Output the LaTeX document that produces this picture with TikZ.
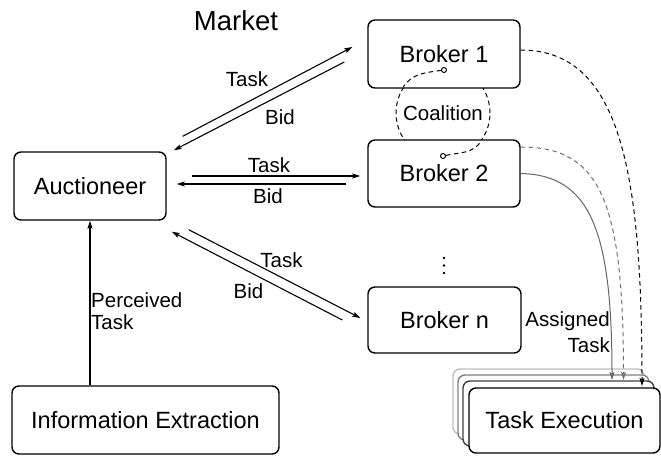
\documentclass[tikz,border=0pt]{standalone}
\usepackage{fontspec}
\setmainfont{Liberation Sans}
\usetikzlibrary{arrows.meta,calc}
\begin{document}
\begin{tikzpicture}[x=1pt,y=-1pt,
  box/.style={draw,line width=1.4pt,rounded corners=7pt,fill=white,inner sep=0pt,
    font=\fontsize{23.5}{28}\selectfont},
  lbl/.style={inner sep=0pt,font=\fontsize{20.5}{23}\selectfont},
  arr/.style={line width=1.1pt,-{Stealth[length=8pt,width=5pt,inset=1.5pt]}},
  dsh/.style={dash pattern=on 4.5pt off 3.5pt},
  dot/.style={draw,line width=1pt,fill=white,circle,inner sep=0pt,minimum size=5pt},
  coal/.style={draw,dsh,line width=1pt,circle,minimum size=94pt,inner sep=0pt,
    font=\fontsize{20.5}{23}\selectfont}]
\useasboundingbox (0,0) rectangle (661,455);

% title
\node[inner sep=0pt,font=\fontsize{27.5}{30}\selectfont] (market) at (236,21) {Market};

% coalition circle (drawn under the broker boxes)
\node[coal] (coal) at (443,113) {Coalition};

% brokers
\node[box,minimum width=152pt,minimum height=68pt] (b1) at (444,54) {Broker 1};
\node[box,minimum width=152pt,minimum height=67pt] (b2) at (444,173.5) {Broker 2};
\node[box,minimum width=153pt,minimum height=66pt] (bn) at (444.5,320) {Broker n};
\node[box,minimum width=152pt,minimum height=68pt] (auc) at (90,186) {Auctioneer};
\node[box,minimum width=267pt,minimum height=68pt] (info) at (145.5,420) {Information Extraction};

% task execution stack
\node[box,draw=black!25,minimum width=191pt,minimum height=65pt] (te0) at (548.5,401.5) {};
\node[box,draw=black!50,minimum width=191pt,minimum height=65pt] (te1) at (553.5,407.5) {};
\node[box,draw=black!75,minimum width=191pt,minimum height=65pt] (te2) at (558.5,413.5) {};
\node[box,minimum width=191pt,minimum height=65pt] (te) at (564.5,420.5) {Task Execution};

% coalition links
\node[dot] (d1) at (444,70) {};
\node[dot] (d2) at (443,156) {};
\draw[dsh,line width=1pt] (d1) to[out=188,in=57] (coal.147);
\draw[dsh,line width=1pt] (d2) to[out=12,in=235] (coal.323);

% vertical dots
\foreach \yy in {258,265.5,273} \fill (444,\yy) circle (1.3pt);

% auction arrows
\draw[arr] ([shift={(16,-15)}]auc.north east) -- ([shift={(-15,-7)}]b1.west);
\draw[arr] ([shift={(-23,8)}]b1.west) -- ([shift={(7,-1)}]auc.north east);
\node[lbl] (t1) at (247,79.5) {Task};
\node[lbl] (bi1) at (280,117) {Bid};

\draw[arr] ([shift={(25,-10)}]auc.east) -- ([shift={(-7,2.5)}]b2.west);
\draw[arr] ([shift={(-21,10.5)}]b2.west) -- ([shift={(10,-2)}]auc.east);
\node[lbl] (t2) at (269,165.5) {Task};
\node[lbl] (bi2) at (268,196.5) {Bid};

\draw[arr] ([shift={(22,9)}]auc.south east) -- ([shift={(-7,-2)}]bn.west);
\draw[arr] ([shift={(-25,0)}]bn.west) -- ([shift={(5,11)}]auc.south east);
\node[lbl] (t3) at (281.5,260) {Task};
\node[lbl] (bi3) at (248.5,291.5) {Bid};

% perceived task
\draw[arr] (info.north -| auc.south) -- (auc.south);
\node[lbl,anchor=north west,align=left,font=\fontsize{20.5}{22.5}\selectfont] (pt) at (91,292) {Perceived\\Task};

% assigned task arrows
\coordinate (e1) at (642,386);
\coordinate (e2) at (623.5,380);
\coordinate (e3) at (612,380);
\draw[arr,dsh,line width=1pt] ([shift={(0,-4)}]b1.east) .. controls (620,50) and (642,170) .. (e1);
\draw[arr,dsh,line width=1pt,color=black!55] ([shift={(0,-26.5)}]b2.east) .. controls (600,147) and (623.5,200) .. (e2);
\draw[arr,line width=1pt,color=black!60] (b2.east) .. controls (590,175) and (612,230) .. (e3);
\node[lbl,anchor=north east,align=right,font=\fontsize{20.5}{26}\selectfont] (at) at (610,311) {Assigned\\Task};
\end{tikzpicture}
\end{document}
